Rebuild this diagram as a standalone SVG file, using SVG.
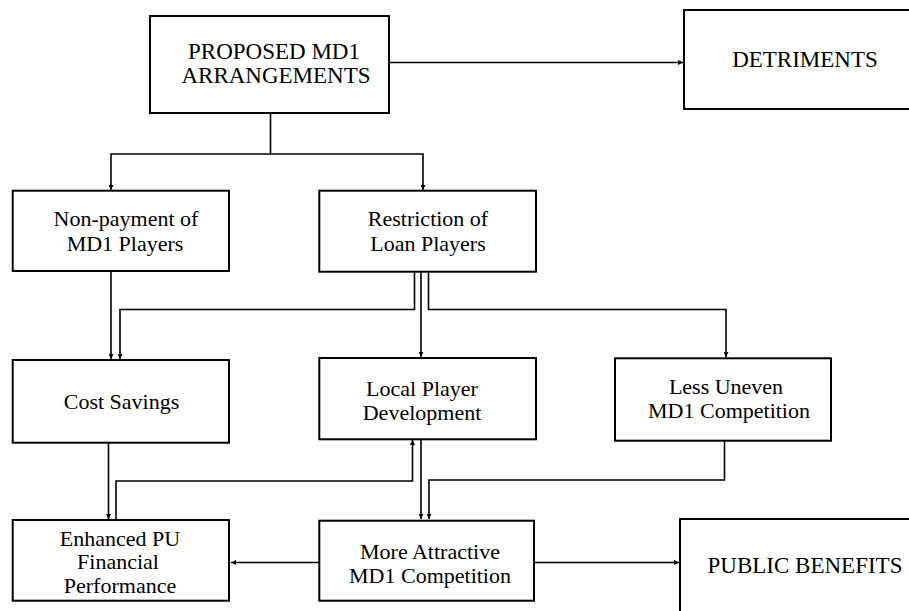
<svg xmlns="http://www.w3.org/2000/svg" width="909" height="611" viewBox="0 0 909 611">
<style>
.box{fill:#fff;stroke:#000;stroke-width:2}
.lbl{font-family:"Liberation Serif","Times New Roman",serif;font-size:22px;fill:#000;text-anchor:middle}
.big{font-size:23px}
.con{fill:none;stroke:#000;stroke-width:1.6}
</style>
<defs>
<marker id="ah" viewBox="0 0 10 10" refX="10" refY="5" markerWidth="6" markerHeight="5" markerUnits="userSpaceOnUse" orient="auto">
<path d="M0,0 L10,5 L0,10 z" fill="#000"/>
</marker>
</defs>
<rect width="909" height="611" fill="#fff"/>
<g id="connectors">
<line class="con" x1="389" y1="62.5" x2="683" y2="62.5" marker-end="url(#ah)"/>
<polyline class="con" points="270.5,113 270.5,154 111,154 111,190" marker-end="url(#ah)"/>
<polyline class="con" points="270.5,154 423,154 423,190" marker-end="url(#ah)"/>
<line class="con" x1="111" y1="271" x2="111" y2="359" marker-end="url(#ah)"/>
<polyline class="con" points="414.5,272 414.5,309.5 120,309.5 120,359" marker-end="url(#ah)"/>
<line class="con" x1="421" y1="272" x2="421" y2="357" marker-end="url(#ah)"/>
<polyline class="con" points="428.5,272 428.5,309.5 726,309.5 726,357" marker-end="url(#ah)"/>
<line class="con" x1="108.5" y1="443" x2="108.5" y2="519" marker-end="url(#ah)"/>
<polyline class="con" points="116,520 116,481 412.5,481 412.5,440" marker-end="url(#ah)"/>
<line class="con" x1="421" y1="440" x2="421" y2="519" marker-end="url(#ah)"/>
<polyline class="con" points="724.5,441 724.5,480 429,480 429,519" marker-end="url(#ah)"/>
<line class="con" x1="319" y1="562.5" x2="231" y2="562.5" marker-end="url(#ah)"/>
<line class="con" x1="534" y1="562.5" x2="679" y2="562.5" marker-end="url(#ah)"/>
</g>
<g id="proposed">
<rect class="box" x="150" y="16" width="239" height="97"/>
<text class="lbl big" x="274" y="59">PROPOSED MD1</text>
<text class="lbl big" x="276" y="83">ARRANGEMENTS</text>
</g>
<g id="detriments">
<rect class="box" x="684" y="10" width="240" height="99"/>
<text class="lbl big" x="805" y="67">DETRIMENTS</text>
</g>
<g id="nonpayment">
<rect class="box" x="12.7" y="190.7" width="216.3" height="80.3"/>
<text class="lbl" x="126" y="226">Non-payment of</text>
<text class="lbl" x="125" y="251">MD1 Players</text>
</g>
<g id="restriction">
<rect class="box" x="319.3" y="190.7" width="216.7" height="81"/>
<text class="lbl" x="428" y="226">Restriction of</text>
<text class="lbl" x="428" y="251">Loan Players</text>
</g>
<g id="costsavings">
<rect class="box" x="12.7" y="360" width="216.3" height="82.7"/>
<text class="lbl" x="121.5" y="409">Cost Savings</text>
</g>
<g id="localplayer">
<rect class="box" x="319.3" y="358" width="216.7" height="81.3"/>
<text class="lbl" x="422" y="396">Local Player</text>
<text class="lbl" x="422" y="420">Development</text>
</g>
<g id="lessuneven">
<rect class="box" x="615" y="358.3" width="216" height="82.4"/>
<text class="lbl" x="726" y="394">Less Uneven</text>
<text class="lbl" x="729" y="418">MD1 Competition</text>
</g>
<g id="enhanced">
<rect class="box" x="12.7" y="520" width="216.3" height="80.7"/>
<text class="lbl" x="120" y="546">Enhanced PU</text>
<text class="lbl" x="118" y="569">Financial</text>
<text class="lbl" x="120" y="593">Performance</text>
</g>
<g id="moreattractive">
<rect class="box" x="319.3" y="520.7" width="214.7" height="80"/>
<text class="lbl" x="430" y="559">More Attractive</text>
<text class="lbl" x="430" y="583">MD1 Competition</text>
</g>
<g id="publicbenefits">
<rect class="box" x="680" y="519" width="245" height="110"/>
<text class="lbl big" x="805" y="573">PUBLIC BENEFITS</text>
</g>
</svg>
